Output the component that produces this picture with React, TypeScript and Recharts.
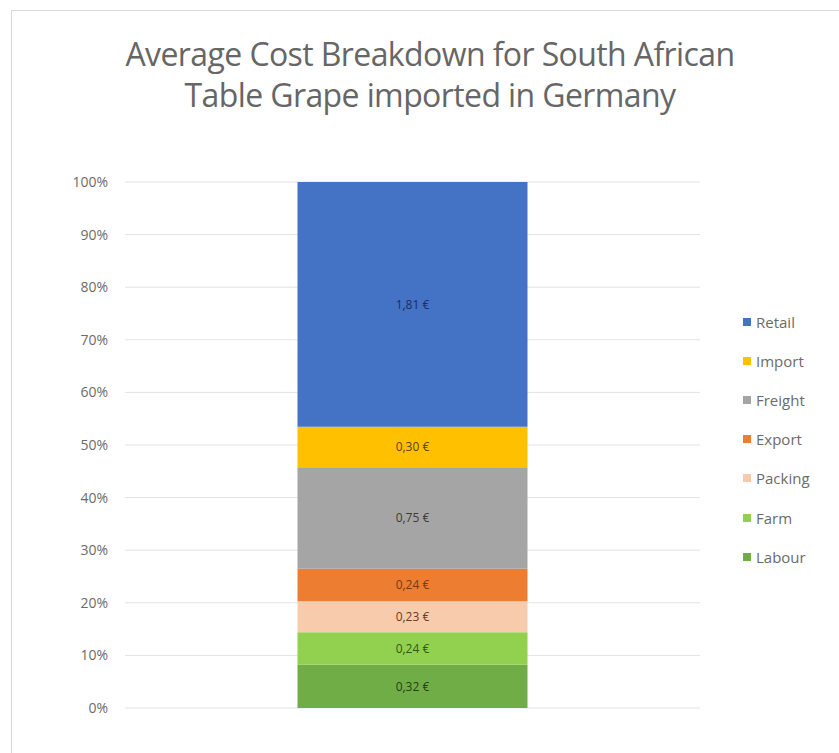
import { BarChart, Bar, YAxis, XAxis, CartesianGrid, LabelList } from "recharts"

const categories = ["Germany"]
const seriesNames = ["Labour", "Farm", "Packing", "Export", "Freight", "Import", "Retail"]
const seriesValues = [0.32, 0.24, 0.23, 0.24, 0.75, 0.3, 1.81]
const seriesColors = ["#70AD47", "#92D050", "#F8CBAD", "#ED7D31", "#A5A5A5", "#FFC000", "#4472C4"]
const labelColors = ["#264017", "#2f5a12", "#6b3a1e", "#7a3a10", "#3b3b3b", "#5c4500", "#1c2f5a"]
const yTicks = [0, 0.1, 0.2, 0.3, 0.4, 0.5, 0.6, 0.7, 0.8, 0.9, 1]

const chartData = categories.map((name) => {
  const row: Record<string, string | number> = { name }
  seriesNames.forEach((s, i) => {
    row[s] = seriesValues[i]
  })
  return row
})

const font = "'Open Sans', 'Noto Sans', sans-serif"

export default function App() {
  return (
    <div style={{ position: "absolute", left: 0, top: 0, width: 839, height: 753, background: "#fff", fontFamily: font, overflow: "hidden" }}>
      <div style={{ position: "absolute", left: 11, top: 10, width: 840, height: 760, border: "1px solid #d9d9d9" }} />
      <div
        style={{
          position: "absolute",
          left: 0,
          top: 33,
          width: 860,
          textAlign: "center",
          fontSize: 32,
          lineHeight: "41px",
          color: "#666666",
          letterSpacing: -0.6,
        }}
      >
        Average Cost Breakdown for South African
        <br />
        Table Grape imported in Germany
      </div>
      <div style={{ position: "absolute", left: 0, top: 0 }}>
        <BarChart
          width={839}
          height={753}
          data={chartData}
          stackOffset="expand"
          margin={{ top: 182, right: 139, bottom: 45, left: 55 }}
          barCategoryGap="30%"
        >
          <CartesianGrid vertical={false} stroke="#e3e3e3" />
          <XAxis dataKey="name" hide />
          <YAxis
            width={70}
            domain={[0, 1]}
            ticks={yTicks}
            tickFormatter={(v: number) => `${Math.round(v * 100)}%`}
            axisLine={false}
            tickLine={false}
            tickSize={0}
            tickMargin={17}
            tick={{ fill: "#6b6b6b", fontSize: 14, fontFamily: font }}
          />
          {seriesNames.map((s, i) => (
            <Bar key={s} dataKey={s} stackId="a" fill={seriesColors[i]} isAnimationActive={false}>
              <LabelList
                dataKey={s}
                position="center"
                formatter={(v: number) => `${v.toFixed(2).replace(".", ",")} €`}
                fill={labelColors[i]}
                fontSize={12}
                fontFamily={font}
              />
            </Bar>
          ))}
        </BarChart>
      </div>
      <div style={{ position: "absolute", left: 743, top: 302 }}>
        {seriesNames
          .map((s, i) => ({ s, c: seriesColors[i] }))
          .reverse()
          .map(({ s, c }) => (
            <div key={s} style={{ display: "flex", alignItems: "center", height: 39.2, fontSize: 15, color: "#6b6b6b" }}>
              <span style={{ display: "inline-block", width: 8, height: 8, background: c, marginRight: 5 }} />
              {s}
            </div>
          ))}
      </div>
    </div>
  )
}
